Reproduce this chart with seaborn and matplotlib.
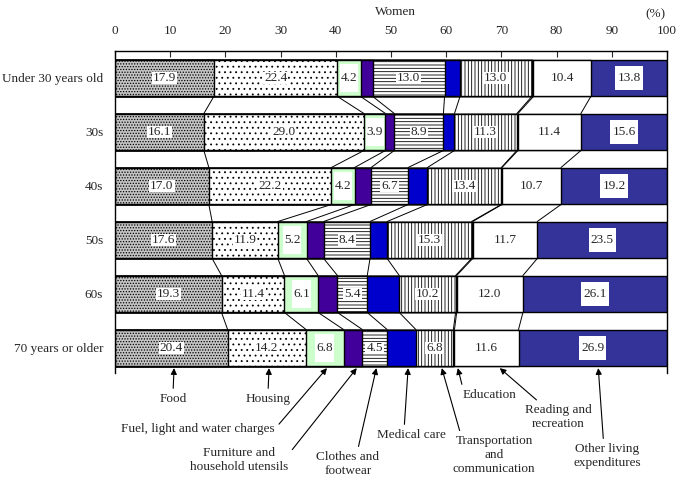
import numpy as np
import pandas as pd
import matplotlib
matplotlib.use("Agg")
import matplotlib.pyplot as plt
from matplotlib.path import Path
import seaborn as sns

# data (percent of living expenditure, women)
groups = ["Under 30 years old", "30s", "40s", "50s", "60s", "70 years or older"]
categories = ["Food", "Housing", "Fuel, light and water charges",
              "Furniture and household utensils", "Clothes and footwear",
              "Medical care", "Transportation and communication",
              "Education", "Reading and recreation", "Other living expenditures"]

food = [17.9, 16.1, 17.0, 17.6, 19.3, 20.4]
housing = [22.4, 29.0, 22.2, 11.9, 11.4, 14.2]
fuel = [4.2, 3.9, 4.2, 5.2, 6.1, 6.8]
furniture = [2.2, 1.6, 3.0, 3.1, 3.5, 3.4]
clothes = [13.0, 8.9, 6.7, 8.4, 5.4, 4.5]
medical = [2.8, 2.0, 3.5, 3.1, 5.8, 5.2]
transport = [13.0, 11.3, 13.4, 15.3, 10.2, 6.8]
education = [0.3, 0.2, 0.1, 0.2, 0.2, 0.2]
reading = [10.4, 11.4, 10.7, 11.7, 12.0, 11.6]
other = [13.8, 15.6, 19.2, 23.5, 26.1, 26.9]

values = np.array([food, housing, fuel, furniture, clothes, medical,
                   transport, education, reading, other]).T
labelled = [True, True, True, False, True, False, True, False, True, True]

# styles per category
faces = ["#c4c4c4", "white", "#ccffcc", "#400099", "white",
         "#0000cc", "white", "black", "white", "#333399"]
hatches = ["......", "...", None, None, "-----", None, "|||||", None, None, None]
# label box padding (px) horizontally / vertically
box_pad = [(1, 0), (1, 0), (1, 8), None, (1, 0), None, (1, 0), None, (1, 0), (2, 6)]


def make_box(px, py):
    def box(x0, y0, width, height, mutation_size):
        x1, y1 = x0 + width + px, y0 + height + py
        xa, ya = x0 - px, y0 - py
        return Path([(xa, ya), (x1, ya), (x1, y1), (xa, y1), (xa, ya)], closed=True)
    return box


plt.rcParams["hatch.linewidth"] = 0.6
sns.set_style("white")
plt.rcParams["font.family"] = ["Liberation Serif", "DejaVu Serif"]
fs = 9.5

fig = plt.figure(figsize=(6.8, 4.8), dpi=100)
ax = fig.add_axes([115 / 680, 1 - 373 / 480, (667 - 115) / 680, (373 - 51) / 480])

bar_h = 0.685
cum = np.cumsum(values, axis=1)

# stacked bars: draw cumulative totals from the right-most category back
for k in range(len(categories) - 1, -1, -1):
    df = pd.DataFrame({"group": groups, "total": cum[:, k]})
    sns.barplot(data=df, x="total", y="group", orient="h", color=faces[k],
                saturation=1, width=bar_h, edgecolor="black", linewidth=1.0,
                hatch=hatches[k], ax=ax)

# value labels
for i in range(len(groups)):
    for k in range(len(categories)):
        if not labelled[k]:
            continue
        xc = cum[i, k] - values[i, k] / 2
        ax.text(xc, i, f"{values[i, k]:.1f}", ha="center", va="center",
                fontsize=fs,
                bbox=dict(boxstyle=make_box(*box_pad[k]), fc="white", ec="none"))

# connector lines between neighbouring bars
for i in range(len(groups) - 1):
    for k in range(len(categories) - 1):
        ax.plot([cum[i, k], cum[i + 1, k]], [i + bar_h / 2, i + 1 - bar_h / 2],
                color="black", lw=0.7)

ax.set_xlim(0, 100)
ax.set_ylim(5.463, -0.5)
ax.set_xticks(range(0, 101, 10))
ax.xaxis.tick_top()
ax.tick_params(axis="x", direction="in", length=4, width=0.8, pad=10,
               labelsize=fs, top=True, bottom=False)
ax.tick_params(axis="y", length=0, labelsize=fs, pad=8.5)
ax.set_xlabel("")
ax.set_ylabel("")
for side in ["top", "left", "right"]:
    ax.spines[side].set_color("black")
    ax.spines[side].set_linewidth(1.0)
ax.spines["bottom"].set_visible(False)

fig.text(395 / 680, 1 - 12 / 480, "Women", ha="center", va="center", fontsize=fs)
fig.text(655 / 680, 1 - 14 / 480, "(%)", ha="center", va="center", fontsize=fs)

# callouts under the last bar: text position (image px), tip nudge, arrow anchor
callouts = [
    ("Food", (173, 399), 0.5, (0.5, 1)),
    ("Housing", (268, 399), 0.4, (0.5, 1)),
    ("Fuel, light and water charges", (198, 429), 0.4, (1, 0.5)),
    ("Furniture and\nhousehold utensils", (239, 460), 0.7, (1, 0.7)),
    ("Clothes and\nfootwear", (348, 464), 0.3, (0.65, 1)),
    ("Medical care", (411, 435), 1.2, (0.4, 1)),
    ("Transportation\nand\ncommunication", (494, 455), 1.3, (0.1, 1)),
    ("Education", (490, 395), 0.7, (0.0, 1)),
    ("Reading and\nrecreation", (558, 417), 2.4, (0.25, 1)),
    ("Other living\nexpenditures", (607, 456), 1.0, (0.45, 1)),
]
last = len(groups) - 1
for k, (txt, (tx, ty), nudge, rel) in enumerate(callouts):
    tip = cum[last, k] - values[last, k] / 2 + nudge
    ax.annotate(txt, xy=(tip, last + bar_h / 2 + 0.03), xycoords="data",
                xytext=(tx, 480 - ty), textcoords="figure pixels",
                ha="center", va="center", multialignment="center",
                fontsize=fs, annotation_clip=False,
                arrowprops=dict(arrowstyle="-|>", color="black", lw=0.8,
                                mutation_scale=9, shrinkA=1, shrinkB=0,
                                relpos=rel))

fig.savefig("out.png", dpi=100)
